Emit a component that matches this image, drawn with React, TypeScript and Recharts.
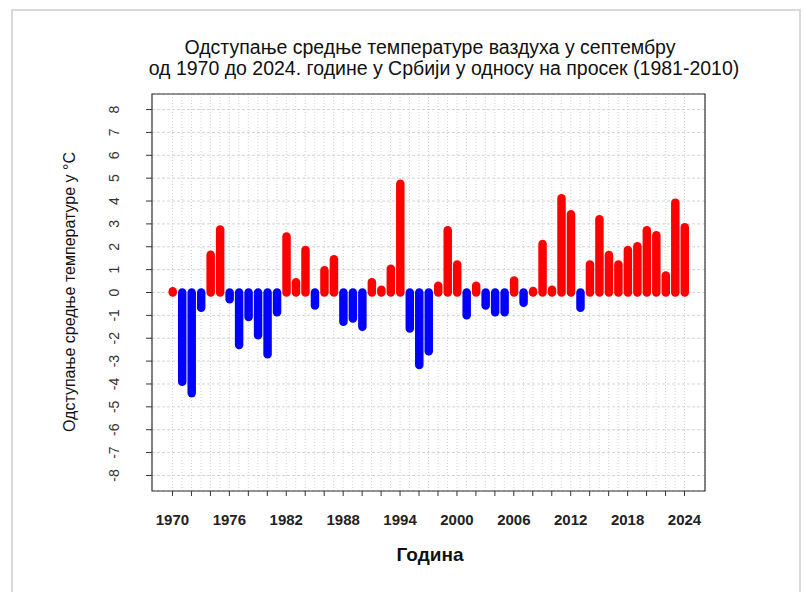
import { ComposedChart, Bar, XAxis, YAxis, CartesianGrid, ReferenceArea } from 'recharts'

// September mean temperature anomaly, Serbia, vs 1981-2010 (°C)
const years = [
  1970, 1971, 1972, 1973, 1974, 1975, 1976, 1977, 1978, 1979,
  1980, 1981, 1982, 1983, 1984, 1985, 1986, 1987, 1988, 1989,
  1990, 1991, 1992, 1993, 1994, 1995, 1996, 1997, 1998, 1999,
  2000, 2001, 2002, 2003, 2004, 2005, 2006, 2007, 2008, 2009,
  2010, 2011, 2012, 2013, 2014, 2015, 2016, 2017, 2018, 2019,
  2020, 2021, 2022, 2023, 2024,
]
const anomalies = [
  0.05, -3.9, -4.4, -0.67, 1.65, 2.75, -0.3, -2.3, -1.07, -1.87,
  -2.7, -0.86, 2.45, 0.45, 1.86, -0.57, 0.97, 1.45, -1.28, -1.14,
  -1.5, 0.45, 0.12, 1.04, 4.76, -1.57, -3.17, -2.57, 0.3, 2.72,
  1.22, -1.0, 0.3, -0.57, -0.86, -0.86, 0.52, -0.45, 0.07, 2.12,
  0.12, 4.12, 3.42, -0.67, 1.22, 3.2, 1.64, 1.22, 1.86, 2.02,
  2.72, 2.5, 0.74, 3.93, 2.85,
]
const xTicks = [
  1970, 1972, 1974, 1976, 1978, 1980, 1982, 1984, 1986, 1988,
  1990, 1992, 1994, 1996, 1998, 2000, 2002, 2004, 2006, 2008,
  2010, 2012, 2014, 2016, 2018, 2020, 2022, 2024,
]
const xLabels = [1970, 1976, 1982, 1988, 1994, 2000, 2006, 2012, 2018, 2024]
const yTicks = [-8, -7, -6, -5, -4, -3, -2, -1, 0, 1, 2, 3, 4, 5, 6, 7, 8]

const data = years.map((year, i) => ({ year, value: anomalies[i] }))

const FONT = '"Liberation Sans", Arial, sans-serif'
const X_DOMAIN = [1967.84, 2026.16]
const Y_DOMAIN = [-8.68, 8.68]

function Stick(props: any) {
  const { x, y, width, height, payload } = props
  if (x == null || y == null) return null
  const cx = x + width / 2
  const a = Math.min(y, y + height)
  const b = Math.max(y, y + height)
  const color = payload.value >= 0 ? '#ff0000' : '#0000ff'
  return <line x1={cx} x2={cx} y1={a} y2={b} stroke={color} strokeWidth={8.5} strokeLinecap="round" />
}

function XTick(props: any) {
  const { x, y, payload } = props
  if (!xLabels.includes(payload.value)) return null
  return (
    <text x={x} y={y + 27} textAnchor="middle" fontFamily={FONT} fontSize={15} fontWeight="bold" fill="#222">
      {payload.value}
    </text>
  )
}

function YTick(props: any) {
  const { x, y, payload } = props
  return (
    <text transform={`translate(${x - 30},${y}) rotate(-90)`} textAnchor="middle" dy="0.35em"
      fontFamily={FONT} fontSize={14} fill="#333">
      {payload.value}
    </text>
  )
}

export default function App() {
  return (
    <div style={{ position: 'absolute', left: 0, top: 0, width: 804, height: 592, overflow: 'hidden', background: '#fff', fontFamily: FONT }}>
      <div style={{ position: 'absolute', left: 11, top: 9, width: 786, height: 620, border: '2px solid #d9d9d9' }} />
      <div style={{ position: 'absolute', left: 130, top: 36, width: 600, textAlign: 'center', fontSize: 19.5, lineHeight: '22px', color: '#111' }}>
        Одступање средње температуре ваздуха у септембру
      </div>
      <div style={{ position: 'absolute', left: 144, top: 57, width: 600, textAlign: 'center', fontSize: 19.5, lineHeight: '22px', color: '#111' }}>
        од 1970 до 2024. године у Србији у односу на просек (1981-2010)
      </div>
      <div style={{ position: 'absolute', left: 230, top: 544, width: 400, textAlign: 'center', fontSize: 19, fontWeight: 'bold', lineHeight: '22px', color: '#111' }}>
        Година
      </div>
      <div style={{ position: 'absolute', left: 70 - 200, top: 292 - 10, width: 400, textAlign: 'center', fontSize: 16, lineHeight: '20px', color: '#111', transform: 'rotate(-90deg)' }}>
        Одступање средње температуре у °C
      </div>
      <div style={{ position: 'absolute', left: 0, top: 0 }}>
        <ComposedChart width={804} height={592} data={data} margin={{ top: 94, right: 99, left: 92, bottom: 71 }}>
          <CartesianGrid vertical={false} stroke="#d3d3d3" strokeDasharray="3 2" />
          <CartesianGrid horizontal={false} xAxisId="grid" stroke="#d3d3d3" strokeDasharray="1 2" />
          <XAxis xAxisId="grid" dataKey="year" type="number" domain={X_DOMAIN} allowDataOverflow
            ticks={years} interval={0} hide />
          <XAxis dataKey="year" type="number" domain={X_DOMAIN} allowDataOverflow ticks={xTicks}
            interval={0} height={30} tickSize={5} tickMargin={2} axisLine={false}
            tickLine={{ stroke: '#333' }} tick={<XTick />} />
          <YAxis type="number" domain={Y_DOMAIN} allowDataOverflow ticks={yTicks} interval={0}
            width={60} tickSize={6} tickMargin={2} axisLine={false} tickLine={{ stroke: '#333' }} tick={<YTick />} />
          <Bar dataKey="value" barSize={8} shape={<Stick />} isAnimationActive={false} />
          <ReferenceArea x1={X_DOMAIN[0]} x2={X_DOMAIN[1]} y1={Y_DOMAIN[0]} y2={Y_DOMAIN[1]}
            fill="none" stroke="#333" strokeWidth={1.2} fillOpacity={0} ifOverflow="visible" />
        </ComposedChart>
      </div>
    </div>
  )
}
